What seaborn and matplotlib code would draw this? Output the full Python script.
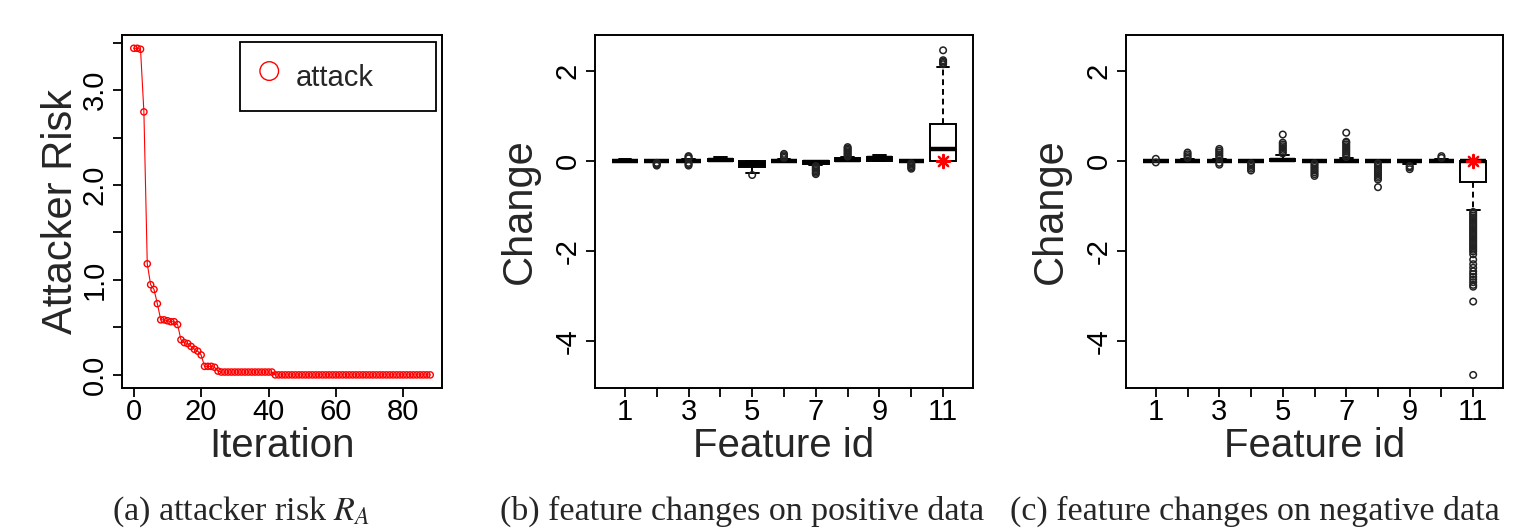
import pandas as pd
import seaborn as sns
import matplotlib.pyplot as plt

# (a) attacker risk per iteration
iterations = list(range(89))
risk = [3.44, 3.44, 3.43, 2.77, 1.17, 0.95, 0.90, 0.75, 0.58, 0.58,
        0.57, 0.56, 0.56, 0.53, 0.37, 0.34, 0.33, 0.30, 0.27, 0.25,
        0.21, 0.09, 0.09, 0.09, 0.08, 0.04, 0.03, 0.03, 0.03, 0.03,
        0.03, 0.03, 0.03, 0.03, 0.03, 0.03, 0.03, 0.03, 0.03, 0.03,
        0.03, 0.03, 0.0, 0.0, 0.0, 0.0, 0.0, 0.0, 0.0, 0.0,
        0.0, 0.0, 0.0, 0.0, 0.0, 0.0, 0.0, 0.0, 0.0, 0.0,
        0.0, 0.0, 0.0, 0.0, 0.0, 0.0, 0.0, 0.0, 0.0, 0.0,
        0.0, 0.0, 0.0, 0.0, 0.0, 0.0, 0.0, 0.0, 0.0, 0.0,
        0.0, 0.0, 0.0, 0.0, 0.0, 0.0, 0.0, 0.0, 0.0]
risk_ticks = [0.0, 0.5, 1.0, 1.5, 2.0, 2.5, 3.0, 3.5]
risk_labels = ['0.0', '', '1.0', '', '2.0', '', '3.0', '']
iter_ticks = [0, 20, 40, 60, 80]

# (b)/(c) box summaries per feature: whisker low, Q1, median, Q3, whisker high
feature_ids = [1, 2, 3, 4, 5, 6, 7, 8, 9, 10, 11]
feature_labels = ['1', '', '3', '', '5', '', '7', '', '9', '', '11']
change_ticks = [-4, -2, 0, 2]

pos_low = [-0.01, -0.03, -0.03, 0.0, -0.28, -0.01, -0.09, 0.0, 0.0, -0.03, 0.0]
pos_q1 = [0.0, 0.0, 0.0, 0.0, -0.15, 0.0, -0.07, 0.0, 0.0, 0.0, 0.0]
pos_med = [0.0, 0.0, 0.0, 0.01, -0.08, 0.0, -0.04, 0.02, 0.05, 0.0, 0.25]
pos_q3 = [0.0, 0.0, 0.0, 0.03, 0.0, 0.0, -0.01, 0.05, 0.09, 0.0, 0.82]
pos_high = [0.04, 0.0, 0.03, 0.09, 0.0, 0.04, 0.0, 0.07, 0.12, 0.0, 2.08]
pos_out_feature = [2, 2, 2, 2, 3, 3, 3, 3, 3, 3, 5, 6, 6, 6, 6,
                   7, 7, 7, 7, 7, 7, 7, 8, 8, 8, 8, 8, 8, 8, 8,
                   10, 10, 10, 10, 10, 11, 11, 11, 11, 11]
pos_out_value = [-0.05, -0.07, -0.09, -0.11, 0.05, 0.08, 0.1, -0.05, -0.08, -0.11,
                 -0.32, 0.06, 0.09, 0.12, 0.15,
                 -0.12, -0.15, -0.18, -0.21, -0.24, -0.27, -0.3,
                 0.09, 0.12, 0.15, 0.18, 0.21, 0.24, 0.27, 0.3,
                 -0.06, -0.09, -0.12, -0.15, -0.18,
                 2.14, 2.17, 2.2, 2.23, 2.45]

neg_low = [-0.02, -0.01, -0.02, -0.03, 0.0, -0.04, 0.0, -0.03, -0.08, -0.01, -1.1]
neg_q1 = [0.0, 0.0, 0.0, 0.0, 0.0, 0.0, 0.0, 0.0, 0.0, 0.0, -0.48]
neg_med = [0.0, 0.0, 0.0, 0.0, 0.02, 0.0, 0.0, 0.0, 0.0, 0.0, 0.0]
neg_q3 = [0.0, 0.0, 0.0, 0.0, 0.04, 0.0, 0.0, 0.0, 0.0, 0.0, 0.0]
neg_high = [0.02, 0.04, 0.03, 0.0, 0.12, 0.01, 0.05, 0.0, 0.0, 0.03, 0.0]
neg_out_feature = [1, 1, 2, 2, 2, 2, 3, 3, 3, 3, 3, 3, 3, 3,
                   4, 4, 4, 4, 4, 5, 5, 5, 5, 5, 5, 5, 5,
                   6, 6, 6, 6, 6, 6, 6, 6,
                   7, 7, 7, 7, 7, 7, 7, 7, 7, 7, 7,
                   8, 8, 8, 8, 8, 8, 8, 8, 8, 8, 8,
                   9, 9, 9, 10, 10,
                   11, 11, 11, 11, 11, 11, 11, 11, 11, 11, 11, 11,
                   11, 11, 11, 11, 11, 11, 11, 11, 11, 11, 11, 11,
                   11, 11, 11, 11, 11, 11, 11, 11, 11, 11, 11, 11]
neg_out_value = [0.04, -0.04, 0.06, 0.1, 0.14, 0.18,
                 0.06, 0.1, 0.14, 0.18, 0.22, 0.26, -0.05, -0.09,
                 -0.06, -0.1, -0.14, -0.18, -0.22,
                 0.16, 0.2, 0.24, 0.28, 0.32, 0.36, 0.4, 0.58,
                 -0.06, -0.1, -0.14, -0.18, -0.22, -0.26, -0.3, -0.34,
                 0.08, 0.12, 0.16, 0.2, 0.24, 0.28, 0.32, 0.36, 0.4, 0.42, 0.62,
                 -0.06, -0.1, -0.14, -0.18, -0.22, -0.26, -0.3, -0.34, -0.38, -0.42, -0.59,
                 -0.12, -0.15, -0.19, 0.06, 0.1,
                 -1.14, -1.18, -1.22, -1.26, -1.3, -1.34, -1.38, -1.42, -1.46, -1.5, -1.54, -1.58,
                 -1.62, -1.66, -1.7, -1.74, -1.78, -1.82, -1.86, -1.9, -1.94, -1.98, -2.02, -2.08,
                 -2.2, -2.3, -2.38, -2.46, -2.52, -2.58, -2.64, -2.7, -2.76, -2.8, -3.13, -4.76]

star_feature = [11]
pos_star = [0.0]
neg_star = [0.0]

sns.set_theme(style="ticks")
plt.rcParams['font.family'] = ['Liberation Sans', 'DejaVu Sans']
plt.rcParams['mathtext.fontset'] = 'stix'
plt.rcParams['axes.unicode_minus'] = False
plt.rcParams['axes.edgecolor'] = 'black'
plt.rcParams['axes.linewidth'] = 1.4

W, H = 1513, 530
fig = plt.figure(figsize=(W / 100, H / 100), dpi=100)


def px_axes(left, top, right, bottom):
    return fig.add_axes([left / W, 1 - bottom / H, (right - left) / W, (bottom - top) / H])


def style_axes(ax):
    ax.tick_params(direction='out', length=6.5, width=1.3, color='black',
                   labelsize=21, labelcolor='black')
    ax.tick_params(axis='x', pad=1)
    ax.tick_params(axis='y', labelrotation=90, pad=3)
    for t in ax.get_yticklabels():
        t.set_va('center')


# panel (a)
ax_a = px_axes(122, 35, 442, 388)
sns.lineplot(x=iterations, y=risk, color='red', linewidth=0.8, ax=ax_a)
sns.scatterplot(x=iterations, y=risk, marker='o', s=20, facecolor='none',
                edgecolor='red', linewidth=1.0, label='attack', ax=ax_a)
ax_a.set_xlim(-3.5, 91.5)
ax_a.set_ylim(-0.138, 3.58)
ax_a.set_xticks(iter_ticks)
ax_a.set_yticks(risk_ticks)
ax_a.set_yticklabels(risk_labels)
ax_a.set_xlabel('Iteration', fontsize=29)
ax_a.set_ylabel('Attacker Risk', fontsize=30)
style_axes(ax_a)
leg = ax_a.legend(loc='upper left', bbox_to_anchor=(0.369, 0.98, 0.6125, 0.0),
                  mode='expand', fontsize=21, frameon=True, fancybox=False,
                  edgecolor='black', framealpha=1, borderpad=0.5,
                  handlelength=1.0, handleheight=1.7, handletextpad=0.4,
                  markerscale=3.0, borderaxespad=0)
leg.get_frame().set_linewidth(1.3)


def box_panel(ax, low, q1, med, q3, high, out_feature, out_value, star_value):
    box_df = pd.DataFrame({'feature': feature_ids, 'low': low, 'q1': q1,
                           'med': med, 'q3': q3, 'high': high})
    box_df = box_df.melt(id_vars='feature', value_name='change')
    sns.boxplot(data=box_df, x='feature', y='change', native_scale=True,
                whis=(0, 100), showfliers=False, width=0.8, color='white',
                linecolor='black', linewidth=1.4,
                medianprops={'linewidth': 3.2},
                whiskerprops={'linestyle': (0, (3, 2))}, ax=ax)
    sns.scatterplot(x=out_feature, y=out_value, marker='o', s=22,
                    facecolor='none', edgecolor='#222222', linewidth=1.1,
                    ax=ax, zorder=3)
    sns.scatterplot(x=star_feature, y=star_value, marker=(8, 2, 0), s=90,
                    color='red', edgecolor='red', linewidth=1.6, ax=ax, zorder=4)
    ax.set_xlim(0.06, 11.94)
    ax.set_ylim(-5.05, 2.79)
    ax.set_xticks(feature_ids)
    ax.set_xticklabels(feature_labels)
    ax.set_yticks(change_ticks)
    ax.set_yticklabels([str(v) for v in change_ticks])
    ax.set_xlabel('Feature id', fontsize=29)
    ax.set_ylabel('Change', fontsize=30)
    style_axes(ax)


ax_b = px_axes(595, 35, 973, 388)
box_panel(ax_b, pos_low, pos_q1, pos_med, pos_q3, pos_high,
          pos_out_feature, pos_out_value, pos_star)
ax_c = px_axes(1126, 35, 1503, 388)
box_panel(ax_c, neg_low, neg_q1, neg_med, neg_q3, neg_high,
          neg_out_feature, neg_out_value, neg_star)

for ax in (ax_a, ax_b, ax_c):
    ax.xaxis.set_label_coords(0.5, -0.11)
ax_a.yaxis.set_label_coords(-0.128, 0.5)
ax_b.yaxis.set_label_coords(-0.145, 0.5)
ax_c.yaxis.set_label_coords(-0.145, 0.5)

cap_kw = dict(family=['Liberation Serif', 'DejaVu Serif'], fontsize=24.5, va='baseline')
fig.text(112 / W, 1 - 520 / H, '(a) attacker risk $R_A$', **cap_kw)
fig.text(500 / W, 1 - 520 / H, '(b) feature changes on positive data', **cap_kw)
fig.text(1010 / W, 1 - 520 / H, '(c) feature changes on negative data', **cap_kw)

fig.savefig('out.png', dpi=100)
